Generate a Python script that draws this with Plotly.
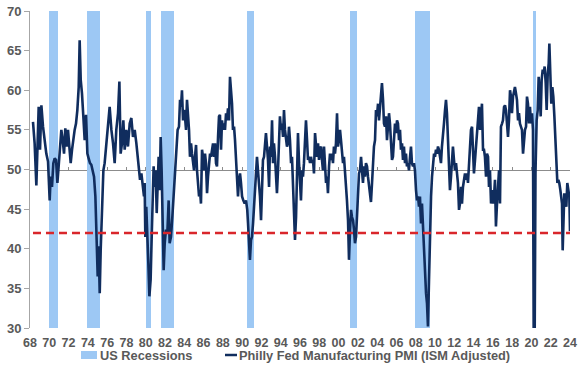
import plotly.graph_objects as go

# ---------------- data ----------------
# Philly Fed Manufacturing PMI (ISM adjusted), dates as decimal years
DATES = [
    1968.31, 1968.48, 1968.66, 1968.76, 1968.9, 1969.04, 1969.18, 1969.35, 1969.52, 1969.69, 1969.87,
    1970.04, 1970.14, 1970.28, 1970.42, 1970.56, 1970.7, 1970.84, 1970.97, 1971.11, 1971.25, 1971.39,
    1971.53, 1971.66, 1971.8, 1971.94, 1972.08, 1972.22, 1972.36, 1972.49, 1972.63, 1972.77, 1972.91,
    1973.05, 1973.15, 1973.26, 1973.39, 1973.53, 1973.67, 1973.81, 1973.95, 1974.08, 1974.22, 1974.36,
    1974.5, 1974.64, 1974.78, 1974.91, 1975.02, 1975.12, 1975.23, 1975.33, 1975.47, 1975.61, 1975.74,
    1975.92, 1976.09, 1976.26, 1976.44, 1976.61, 1976.78, 1976.95, 1977.13, 1977.27, 1977.4, 1977.54,
    1977.68, 1977.82, 1977.99, 1978.16, 1978.34, 1978.51, 1978.68, 1978.86, 1979.03, 1979.2, 1979.41,
    1979.55, 1979.68, 1979.82, 1979.89, 1979.96, 1980.06, 1980.17, 1980.27, 1980.38, 1980.51, 1980.62,
    1980.72, 1980.82, 1980.93, 1981.03, 1981.14, 1981.24, 1981.34, 1981.45, 1981.55, 1981.65, 1981.76,
    1981.86, 1981.97, 1982.1, 1982.24, 1982.38, 1982.48, 1982.62, 1982.76, 1982.9, 1983.04, 1983.18,
    1983.31, 1983.45, 1983.56, 1983.66, 1983.76, 1983.87, 1983.97, 1984.07, 1984.18, 1984.28, 1984.39,
    1984.49, 1984.59, 1984.7, 1984.8, 1984.9, 1985.01, 1985.11, 1985.22, 1985.32, 1985.42, 1985.53,
    1985.63, 1985.73, 1985.84, 1985.94, 1986.04, 1986.15, 1986.25, 1986.36, 1986.46, 1986.56, 1986.67,
    1986.77, 1986.87, 1986.98, 1987.08, 1987.19, 1987.29, 1987.39, 1987.5, 1987.6, 1987.7, 1987.81,
    1987.91, 1988.02, 1988.12, 1988.22, 1988.33, 1988.43, 1988.53, 1988.64, 1988.74, 1988.84, 1988.95,
    1989.05, 1989.16, 1989.26, 1989.36, 1989.47, 1989.57, 1989.67, 1989.78, 1989.88, 1989.99, 1990.12,
    1990.26, 1990.4, 1990.53, 1990.61, 1990.71, 1990.81, 1990.92, 1991.02, 1991.13, 1991.23, 1991.33,
    1991.44, 1991.54, 1991.64, 1991.75, 1991.85, 1991.96, 1992.06, 1992.16, 1992.27, 1992.37, 1992.47,
    1992.58, 1992.68, 1992.79, 1992.89, 1992.99, 1993.1, 1993.2, 1993.3, 1993.41, 1993.51, 1993.61,
    1993.72, 1993.82, 1993.92, 1994.03, 1994.13, 1994.24, 1994.34, 1994.44, 1994.55, 1994.65, 1994.75,
    1994.86, 1994.96, 1995.07, 1995.17, 1995.27, 1995.38, 1995.48, 1995.59, 1995.69, 1995.79, 1995.9,
    1996.0, 1996.1, 1996.21, 1996.31, 1996.41, 1996.52, 1996.62, 1996.73, 1996.83, 1996.93, 1997.04,
    1997.14, 1997.24, 1997.35, 1997.45, 1997.56, 1997.66, 1997.76, 1997.87, 1997.97, 1998.07, 1998.18,
    1998.28, 1998.38, 1998.49, 1998.59, 1998.7, 1998.8, 1998.9, 1999.01, 1999.11, 1999.21, 1999.32,
    1999.42, 1999.52, 1999.63, 1999.73, 1999.84, 1999.94, 2000.04, 2000.15, 2000.25, 2000.36, 2000.46,
    2000.56, 2000.67, 2000.77, 2000.87, 2000.98, 2001.08, 2001.19, 2001.29, 2001.39, 2001.5, 2001.6,
    2001.7, 2001.81, 2001.91, 2002.01, 2002.12, 2002.22, 2002.33, 2002.43, 2002.53, 2002.64, 2002.74,
    2002.84, 2002.95, 2003.05, 2003.15, 2003.26, 2003.36, 2003.47, 2003.57, 2003.67, 2003.78, 2003.88,
    2003.98, 2004.09, 2004.19, 2004.3, 2004.4, 2004.5, 2004.61, 2004.71, 2004.81, 2004.92, 2005.02,
    2005.13, 2005.23, 2005.33, 2005.44, 2005.54, 2005.64, 2005.75, 2005.85, 2005.95, 2006.06, 2006.16,
    2006.27, 2006.37, 2006.47, 2006.58, 2006.68, 2006.78, 2006.89, 2006.99, 2007.09, 2007.2, 2007.3,
    2007.41, 2007.51, 2007.61, 2007.72, 2007.82, 2007.92, 2008.03, 2008.13, 2008.24, 2008.34, 2008.44,
    2008.55, 2008.65, 2008.76, 2008.86, 2008.96, 2009.07, 2009.17, 2009.27, 2009.38, 2009.48, 2009.59,
    2009.69, 2009.79, 2009.9, 2010.0, 2010.1, 2010.21, 2010.31, 2010.41, 2010.52, 2010.62, 2010.72,
    2010.83, 2010.93, 2011.04, 2011.14, 2011.24, 2011.35, 2011.45, 2011.55, 2011.66, 2011.76, 2011.86,
    2011.97, 2012.07, 2012.18, 2012.28, 2012.38, 2012.49, 2012.59, 2012.7, 2012.8, 2012.9, 2013.01,
    2013.11, 2013.21, 2013.32, 2013.42, 2013.52, 2013.63, 2013.73, 2013.84, 2013.94, 2014.04, 2014.15,
    2014.25, 2014.36, 2014.46, 2014.56, 2014.67, 2014.77, 2014.87, 2014.98, 2015.08, 2015.18, 2015.29,
    2015.39, 2015.5, 2015.6, 2015.7, 2015.81, 2015.91, 2016.01, 2016.12, 2016.22, 2016.32, 2016.43,
    2016.53, 2016.64, 2016.74, 2016.84, 2016.95, 2017.05, 2017.16, 2017.26, 2017.36, 2017.47, 2017.57,
    2017.67, 2017.78, 2017.88, 2017.98, 2018.09, 2018.19, 2018.29, 2018.4, 2018.5, 2018.61, 2018.71,
    2018.81, 2018.92, 2019.02, 2019.13, 2019.23, 2019.33, 2019.44, 2019.54, 2019.64, 2019.75, 2019.85,
    2019.95, 2020.06, 2020.16, 2020.25, 2020.33, 2020.42, 2020.54, 2020.65, 2020.75, 2020.85, 2020.96,
    2021.06, 2021.17, 2021.27, 2021.37, 2021.48, 2021.58, 2021.69, 2021.79, 2021.86, 2021.96, 2022.06,
    2022.17, 2022.27, 2022.38, 2022.48, 2022.58, 2022.69, 2022.79, 2022.89, 2023.0, 2023.1, 2023.17,
    2023.24, 2023.31, 2023.41, 2023.52, 2023.62, 2023.72, 2023.83, 2023.93, 2024.0,
]
PMI = [
    56.0, 53.3, 48.0, 52.9, 57.9, 52.5, 58.1, 55.4, 53.7, 52.0, 51.0,
    46.1, 49.1, 47.8, 50.8, 51.4, 51.2, 48.3, 50.4, 52.9, 55.0, 53.7,
    52.0, 55.2, 52.9, 55.0, 53.3, 50.8, 52.5, 54.1, 55.0, 55.8, 57.5,
    60.4, 66.3, 61.3, 59.6, 56.7, 53.7, 56.9, 52.0, 51.4, 50.8, 50.6,
    49.9, 49.1, 46.6, 41.9, 36.5, 40.3, 34.4, 39.8, 45.7, 49.9, 50.8,
    53.1, 55.8, 57.9, 55.0, 53.3, 50.8, 55.0, 57.1, 61.1, 52.0, 53.3,
    56.2, 52.5, 55.0, 52.9, 55.8, 56.5, 54.1, 55.0, 53.3, 50.8, 48.7,
    49.5, 47.8, 46.6, 48.3, 41.5, 45.3, 42.4, 38.2, 34.0, 36.1, 41.5,
    48.7, 50.4, 47.8, 49.9, 44.5, 49.5, 51.6, 47.4, 54.1, 49.9, 42.8,
    37.3, 40.7, 42.4, 41.9, 46.1, 40.7, 41.5, 44.0, 46.6, 49.5, 51.6,
    55.0, 55.4, 58.8, 57.9, 60.0, 56.2, 57.5, 56.7, 55.0, 58.8, 56.7,
    55.0, 51.6, 53.3, 52.0, 50.8, 49.9, 51.6, 53.1, 49.9, 48.3, 46.6,
    47.4, 45.7, 52.5, 51.6, 49.9, 52.0, 50.8, 47.0, 49.1, 50.8, 52.0,
    51.6, 52.5, 53.3, 51.6, 53.3, 50.8, 50.4, 54.1, 56.7, 56.9, 52.5,
    56.2, 55.0, 55.8, 55.0, 57.1, 56.2, 57.7, 56.2, 61.7, 60.0, 58.3,
    55.0, 55.4, 53.7, 51.2, 48.7, 46.6, 48.7, 49.5, 48.3, 46.6, 46.1,
    45.7, 46.1, 44.9, 43.2, 40.3, 38.6, 41.1, 41.5, 43.2, 45.7, 47.8,
    49.5, 51.6, 49.9, 48.3, 46.6, 43.6, 47.4, 51.2, 51.6, 53.3, 54.6,
    52.9, 51.2, 47.8, 52.9, 51.6, 56.2, 50.8, 53.3, 51.6, 49.5, 47.0,
    49.9, 52.9, 56.7, 55.0, 55.8, 54.1, 57.5, 55.0, 53.7, 52.9, 53.3,
    55.4, 53.7, 50.8, 51.6, 47.4, 44.0, 41.1, 44.0, 49.9, 54.6, 50.8,
    47.8, 46.1, 49.9, 49.1, 50.8, 53.7, 56.2, 53.7, 51.2, 51.6, 50.8,
    51.6, 50.8, 51.2, 49.5, 54.6, 52.9, 51.6, 53.3, 51.2, 52.5, 52.9,
    51.2, 49.9, 52.9, 50.8, 48.3, 49.1, 47.0, 50.4, 52.0, 51.2, 52.0,
    50.8, 52.9, 52.0, 53.3, 57.1, 52.9, 53.7, 55.0, 53.7, 52.0, 50.8,
    51.6, 49.9, 48.7, 46.1, 43.6, 38.6, 42.4, 44.9, 44.0, 43.6, 42.4,
    40.7, 41.5, 44.0, 47.8, 49.5, 49.9, 51.6, 49.9, 48.3, 50.4, 49.1,
    50.8, 50.4, 49.1, 47.8, 47.0, 45.9, 48.3, 52.0, 52.9, 53.7, 57.5,
    56.7, 58.3, 56.2, 58.3, 59.6, 60.9, 58.8, 55.8, 55.4, 56.7, 53.7,
    55.0, 57.1, 55.8, 52.9, 51.2, 51.6, 53.7, 55.8, 54.6, 56.2, 55.8,
    53.7, 55.0, 52.5, 53.3, 51.2, 52.9, 50.8, 52.0, 50.4, 50.8, 49.9,
    51.6, 52.9, 50.8, 50.4, 50.8, 49.9, 47.4, 46.1, 46.6, 45.3, 46.6,
    43.2, 45.7, 42.4, 39.0, 35.6, 34.4, 33.1, 30.2, 36.1, 42.4, 46.6,
    49.1, 50.8, 52.0, 51.6, 52.5, 52.0, 52.9, 52.5, 51.6, 50.8, 52.9,
    54.1, 55.8, 57.5, 58.8, 57.1, 54.1, 50.4, 47.4, 49.1, 50.8, 52.9,
    51.2, 49.9, 50.8, 49.5, 48.3, 44.9, 45.7, 47.8, 45.7, 47.8, 49.1,
    49.5, 48.7, 49.5, 48.3, 50.8, 52.0, 55.0, 55.4, 52.5, 49.5, 51.2,
    52.9, 53.7, 55.4, 57.9, 55.0, 56.7, 58.3, 52.5, 52.5, 51.6, 49.1,
    52.0, 51.6, 47.8, 49.9, 45.7, 47.4, 45.7, 46.6, 48.7, 42.8, 45.7,
    47.4, 49.9, 45.7, 55.4, 55.8, 56.2, 57.9, 58.1, 57.5, 56.2, 54.1,
    56.2, 60.0, 59.2, 57.1, 59.2, 60.0, 60.4, 59.6, 58.8, 56.2, 57.1,
    55.8, 55.4, 55.0, 52.0, 54.1, 55.0, 55.4, 59.2, 58.3, 55.8, 57.9,
    55.8, 57.1, 55.0, 24.0, 27.0, 49.5, 56.2, 57.5, 61.7, 59.6, 56.7,
    61.3, 62.6, 62.1, 63.0, 60.9, 57.5, 62.1, 63.4, 65.9, 62.6, 58.3,
    60.4, 59.2, 56.7, 54.1, 50.4, 48.3, 48.7, 48.3, 47.4, 46.1, 45.7,
    39.8, 44.9, 47.0, 46.1, 45.3, 48.3, 47.4, 46.6, 42.2,
]

# NBER recessions (decimal years)
REC_START = [1969.97, 1973.88, 1980.06, 1981.55, 1990.47, 2001.19, 2007.96, 2020.13]
REC_END = [1970.91, 1975.26, 1980.58, 1982.93, 1991.23, 2001.88, 2009.52, 2020.47]

THRESHOLD = 42
NEUTRAL = 50
Y_MIN, Y_MAX = 30, 70
X_MIN, X_MAX = 1968, 2024
TICK_YEARS = list(range(1968, 2025, 2))
TICK_TEXT = [f"{y % 100:02d}" for y in TICK_YEARS]

REC_NAME = "US Recessions"
PMI_NAME = "Philly Fed Manufacturing PMI (ISM Adjusted)"

# ---------------- styles ----------------
TXT = "#595959"
FONT = "Liberation Sans, Arial, sans-serif"
REC_COLOR = "#9dc8f4"
LINE_COLOR = "#102d5e"

W, H = 580, 379
ML, MR, MT, MB = 30, 10, 11, 51
PW, PH = W - ML - MR, H - MT - MB


def px_x(px):
    return (px - ML) / PW


def px_y(py):
    return (H - MB - py) / PH


fig = go.Figure()

fig.add_trace(go.Bar(
    x=[(s + e) / 2 for s, e in zip(REC_START, REC_END)],
    width=[e - s for s, e in zip(REC_START, REC_END)],
    y=[Y_MAX - Y_MIN] * len(REC_START),
    base=Y_MIN,
    marker=dict(color=REC_COLOR, line=dict(width=0)),
    name=REC_NAME, showlegend=False,
    hoverinfo="skip",
))

fig.add_trace(go.Scatter(
    x=DATES, y=PMI, mode="lines",
    line=dict(color=LINE_COLOR, width=2.6),
    name=PMI_NAME, showlegend=False,
))

# dummy trace to bind the 50-level axis
fig.add_trace(go.Scatter(
    x=[X_MIN], y=[NEUTRAL], xaxis="x2", mode="lines",
    showlegend=False, hoverinfo="skip", line=dict(width=0),
))

fig.add_shape(
    type="line", xref="x", yref="y",
    x0=DATES[0], x1=X_MAX, y0=THRESHOLD, y1=THRESHOLD,
    line=dict(color="#d9262b", width=2.5, dash="8px,5px"),
    layer="above",
)

# ---- custom legend (paper coords) ----
LEG_Y = 355
fig.add_shape(type="rect", xref="paper", yref="paper",
              x0=px_x(81), x1=px_x(97), y0=px_y(LEG_Y + 4), y1=px_y(LEG_Y - 4),
              fillcolor=REC_COLOR, line=dict(width=0))
fig.add_shape(type="line", xref="paper", yref="paper",
              x0=px_x(225), x1=px_x(237), y0=px_y(LEG_Y), y1=px_y(LEG_Y),
              line=dict(color=LINE_COLOR, width=2.5))
legfont = dict(size=12.8, color=TXT, family=FONT, weight="bold")
fig.add_annotation(text=REC_NAME, xref="paper", yref="paper", x=px_x(99), y=px_y(LEG_Y),
                   xanchor="left", yanchor="middle", showarrow=False, font=legfont,
                   borderpad=0)
fig.add_annotation(text=PMI_NAME, xref="paper", yref="paper", x=px_x(238), y=px_y(LEG_Y),
                   xanchor="left", yanchor="middle", showarrow=False, font=legfont,
                   borderpad=0)

fig.update_layout(
    width=W, height=H,
    margin=dict(l=ML, r=MR, t=MT, b=MB, autoexpand=False),
    paper_bgcolor="white", plot_bgcolor="white",
    font=dict(family=FONT, color=TXT),
    bargap=0,
    showlegend=False,
    xaxis=dict(
        range=[X_MIN, X_MAX], tickmode="array", tickvals=TICK_YEARS, ticktext=TICK_TEXT,
        showline=False, showgrid=False, zeroline=False, ticks="",
        tickfont=dict(size=12.5, color=TXT, family=FONT, weight="bold"),
        ticklabelstandoff=5, automargin=False,
    ),
    xaxis2=dict(
        overlaying="x", anchor="free", position=(NEUTRAL - Y_MIN) / (Y_MAX - Y_MIN),
        range=[X_MIN, X_MAX], tickmode="array", tickvals=TICK_YEARS,
        showticklabels=False, showline=True, linecolor="#8c8c8c", linewidth=1,
        ticks="inside", ticklen=3, tickcolor="#8c8c8c",
        showgrid=False, zeroline=False, layer="below traces", automargin=False,
    ),
    yaxis=dict(
        range=[Y_MIN, Y_MAX], dtick=5, showline=True, linecolor="#a6a6a6", linewidth=1,
        ticks="outside", ticklen=5, tickcolor="#a6a6a6",
        showgrid=False, zeroline=False, automargin=False,
        tickfont=dict(size=13, color=TXT, family=FONT, weight="bold"),
    ),
)

fig.write_html(
    "out.html",
    config={"displayModeBar": False},
    post_script="document.body.style.margin='0';document.body.style.overflow='hidden';",
)
